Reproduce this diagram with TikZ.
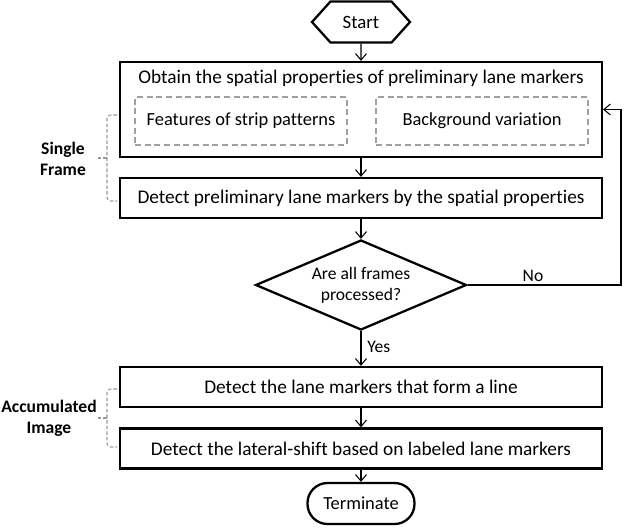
\documentclass[tikz,border=0pt]{standalone}
\usepackage{fontspec}
\setmainfont{Carlito}[Ligatures=NoCommon]
\usetikzlibrary{arrows.meta,positioning,shapes.geometric,shapes.symbols}
\tikzset{stepbox/.style={draw, line width=1.3pt, minimum width=9.64cm, minimum height=0.8cm, inner sep=2pt, font=\fontsize{11}{13}\selectfont}}
\tikzset{subbox/.style={draw=gray!75, dashed, dash pattern=on 3.5pt off 2pt, line width=1.2pt, minimum width=4.24cm, minimum height=0.96cm, font=\fontsize{10.5}{12}\selectfont}}
\tikzset{arr/.style={draw, line width=0.6pt, -{Straight Barb[length=1.3mm,width=2.2mm]}}}
\tikzset{brace/.style={draw=gray!80, dashed, dash pattern=on 2pt off 1.2pt, line width=0.6pt, rounded corners=2pt}}
\tikzset{side/.style={font=\fontsize{10}{12}\selectfont\bfseries, align=center}}

\begin{document}
\begin{tikzpicture}[x=0.02cm, y=-0.02cm, font=\fontsize{10}{12}\selectfont]
	\useasboundingbox (0,0) rectangle (626,528);
	
	\node[draw, line width=1.3pt, shape=signal, signal to=east and west, signal pointer angle=96, minimum width=1.96cm, minimum height=0.82cm, inner sep=1pt, font=\fontsize{10.7}{12}\selectfont] (start) at (361,22) {Start};
	
	\node[stepbox, minimum height=1.9cm] (obtain) at (361,109.5) {};
	\node[below=3pt of obtain.north, inner sep=2pt, font=\fontsize{11}{13}\selectfont] (title) {Obtain the spatial properties of preliminary lane markers};
	\node[subbox] (strip) at (241,121) {Features of strip patterns};
	\node[subbox] (bg) at (482,121) {Background variation};
	
	\node[stepbox] (detect) at (361,198) {Detect preliminary lane markers by the spatial properties};
	
	\node[draw, line width=1.3pt, diamond, aspect=2.35, minimum width=4.22cm, minimum height=1.8cm, inner sep=0pt, align=center] (frames) at (361,285) {Are all frames\\processed?};
	
	\node[stepbox] (line) at (361,387) {Detect the lane markers that form a line};
	\node[stepbox] (shift) at (361,448.5) {Detect the lateral-shift based on labeled lane markers};
	
	\node[draw, line width=1.3pt, rounded corners=0.4cm, minimum width=2.14cm, minimum height=0.82cm, font=\fontsize{10.5}{12}\selectfont] (term) at (361,503.5) {Terminate};
	
	\coordinate (loop) at (621,109.5);
	
	\draw[arr] (start) -- (obtain);
	\draw[arr] (obtain) -- (detect);
	\draw[arr] (detect) -- (frames);
	\draw[arr] (frames) -- node[right, pos=0.45] {Yes} (line);
	\draw[arr] (line) -- (shift);
	\draw[arr] (shift) -- (term);
	\draw[arr] (frames.east) -| (loop) -- (obtain.east);
	\node (no) at (533,276) {No};
	
	% side brackets
	\draw[brace] (117,115) -| (107,158) |- (117,201);
	\draw[brace] (107,158) -- (98,158);
	\node[side] (single) at (63,159) {Single\\Frame};
	
	\draw[brace] (117,389) -| (107,418) |- (117,447);
	\draw[brace] (107,418) -- (98,418);
	\node[side] (accum) at (49,418) {Accumulated\\Image};
\end{tikzpicture}
\end{document}
